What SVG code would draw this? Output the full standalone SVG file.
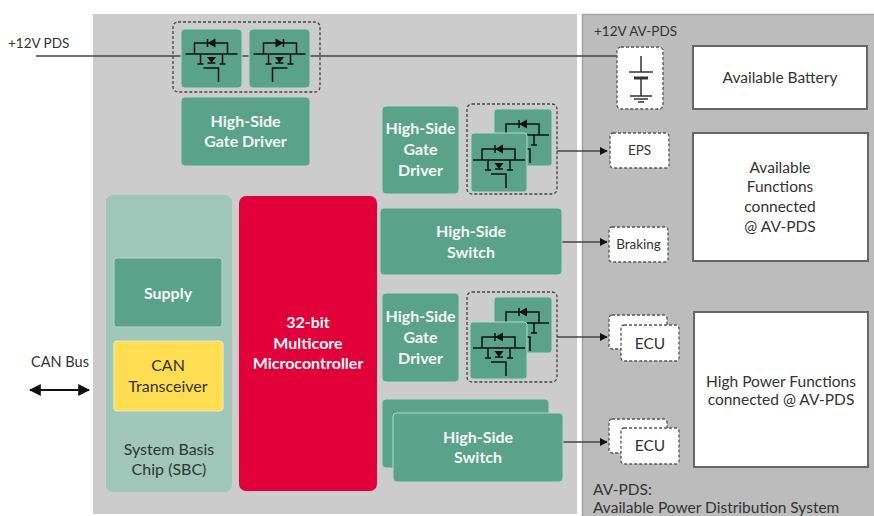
<svg xmlns="http://www.w3.org/2000/svg" xmlns:xlink="http://www.w3.org/1999/xlink" width="874" height="516" viewBox="0 0 874 516">
<style>
.t{font-family:Lato,"Liberation Sans",sans-serif;font-size:15.5px;fill:#333;text-anchor:middle}
.ts{font-family:Lato,"Liberation Sans",sans-serif;font-size:13.5px;fill:#333}
.w{font-family:Lato,"Liberation Sans",sans-serif;font-size:16px;font-weight:bold;fill:#f4f8f6;text-anchor:middle}
.g{fill:#5ba28a;stroke:#b3d6c9;stroke-width:1}
.dash{fill:none;stroke:#444;stroke-width:1.3;stroke-dasharray:3 2}
.wd{fill:#fff;stroke:#555;stroke-width:1.3;stroke-dasharray:3 2}
.box{fill:#fff;stroke:#666;stroke-width:2}
.ln{fill:none;stroke:#444;stroke-width:1.5}
.fet{fill:none;stroke:#111;stroke-width:1.5}
</style>
<defs>
<marker id="ah" viewBox="0 0 10 10" refX="9" refY="5" markerWidth="8" markerHeight="8" markerUnits="userSpaceOnUse" orient="auto">
<path d="M0,0 L10,5 L0,10 Z" fill="#111"/>
</marker>
<marker id="ah2" viewBox="0 0 10 10" refX="9" refY="5" markerWidth="12" markerHeight="12" markerUnits="userSpaceOnUse" orient="auto-start-reverse">
<path d="M0,0 L10,5 L0,10 Z" fill="#111"/>
</marker>
<g id="fet">
<path class="fet" d="M-26,0 H26 M-17,0 V-11 H16 V0 M-4,-15 V-7 M-11,0 V10 M11,0 V10 M-14,10 H-8 M8,10 H14 M-4,9 H4 M-8,14 H7 V28"/>
<path d="M-4,-11 L4,-15.5 L4,-6.5 Z M-4.5,3 L4.5,3 L0,9 Z" fill="#111"/>
</g>
</defs>

<!-- panels -->
<rect x="93" y="14" width="484" height="500" fill="#cccccc"/>
<rect x="582" y="14" width="292" height="502" fill="#bcbcbc"/>
<path d="M582.5,516 V14.5 H874" fill="none" stroke="#a9a0a0" stroke-width="1.5"/>

<text class="ts" x="8" y="48">+12V PDS</text>
<text class="ts" x="594" y="36">+12V AV-PDS</text>

<g id="connectors">
<path class="ln" d="M36,56 H641 V72 M641,79 V95"/>
<path class="ln" d="M557,151 H607" marker-end="url(#ah)"/>
<path class="ln" d="M562,242 H607" marker-end="url(#ah)"/>
<path class="ln" d="M557,337 H607" marker-end="url(#ah)"/>
<path class="ln" d="M563,442 H607" marker-end="url(#ah)"/>
<path d="M30,390 H89" fill="none" stroke="#111" stroke-width="2" marker-start="url(#ah2)" marker-end="url(#ah2)"/>
</g>

<!-- top mosfets -->
<g id="top-switch">
<rect class="dash" x="173" y="22" width="147" height="70" rx="5"/>
<rect class="g" x="181" y="29" width="61" height="59" rx="4"/>
<rect class="g" x="249" y="29" width="61" height="59" rx="4"/>
<use xlink:href="#fet" href="#fet" transform="translate(211.5,54)"/>
<use xlink:href="#fet" href="#fet" transform="translate(279.5,54) scale(-1,1)"/>
</g>

<g id="battery">
<rect class="wd" x="617" y="47" width="46" height="62" rx="4"/>
<path d="M641,56 V72 M641,79 V96" fill="none" stroke="#333" stroke-width="1.5"/>
<path d="M629,72 H653" stroke="#333" stroke-width="1.5"/>
<path d="M634,78 H648" stroke="#333" stroke-width="3"/>
<path d="M630,96 H652 M634,99 H648 M638,102 H644" stroke="#333" stroke-width="1.3"/>
</g>

<g id="avail-battery">
<rect class="box" x="693" y="46" width="174" height="63"/>
<text class="t" x="780" y="83">Available Battery</text>
</g>

<g id="hs-gate-driver-top">
<rect class="g" x="181" y="97" width="129" height="69" rx="4"/>
<text class="w" x="245.5" y="127">High-Side</text>
<text class="w" x="245.5" y="147">Gate Driver</text>
</g>

<g id="hs-gate-driver-1">
<rect class="g" x="382" y="106" width="77" height="88" rx="4"/>
<text class="w" x="420.5" y="134">High-Side</text>
<text class="w" x="420.5" y="155">Gate</text>
<text class="w" x="420.5" y="176">Driver</text>
</g>
<g id="fet-stack-1">
<rect class="dash" x="467" y="104" width="90" height="90" rx="5"/>
<rect class="g" x="494" y="109" width="58" height="57" rx="3"/>
<use xlink:href="#fet" href="#fet" transform="translate(523,135)"/>
<rect class="g" x="471" y="133" width="56" height="59" rx="3"/>
<use xlink:href="#fet" href="#fet" transform="translate(499,160)"/>
</g>

<g id="hs-switch-1">
<rect class="g" x="380" y="208" width="182" height="67" rx="4"/>
<text class="w" x="471" y="237">High-Side</text>
<text class="w" x="471" y="258">Switch</text>
</g>

<g id="hs-gate-driver-2">
<rect class="g" x="382" y="293" width="77" height="89" rx="4"/>
<text class="w" x="420.5" y="322">High-Side</text>
<text class="w" x="420.5" y="343">Gate</text>
<text class="w" x="420.5" y="364">Driver</text>
</g>
<g id="fet-stack-2">
<rect class="dash" x="467" y="292" width="90" height="90" rx="5"/>
<rect class="g" x="494" y="297" width="58" height="56" rx="3"/>
<use xlink:href="#fet" href="#fet" transform="translate(523,323)"/>
<rect class="g" x="470" y="322" width="57" height="57" rx="3"/>
<use xlink:href="#fet" href="#fet" transform="translate(499,348)"/>
</g>

<g id="hs-switch-2">
<rect class="g" x="382" y="399" width="167" height="69" rx="4"/>
<rect class="g" x="393" y="413" width="170" height="69" rx="4"/>
<text class="w" x="478" y="443">High-Side</text>
<text class="w" x="478" y="463">Switch</text>
</g>

<g id="sbc">
<rect x="106" y="195" width="126" height="297" rx="7" fill="#9fc6b9"/>
<text class="t" x="169" y="455" style="font-size:16px">System Basis</text>
<text class="t" x="169" y="475" style="font-size:16px">Chip (SBC)</text>
</g>
<g id="supply">
<rect class="g" x="114" y="258" width="108" height="69" rx="3"/>
<text class="w" x="168" y="299">Supply</text>
</g>
<g id="can-transceiver">
<rect x="114" y="341" width="109" height="70" rx="3" fill="#fedd52" stroke="#f3ecc0" stroke-width="1"/>
<text class="t" x="168" y="371" style="font-size:16px">CAN</text>
<text class="t" x="168" y="392" style="font-size:16px">Transceiver</text>
</g>

<g id="mcu">
<rect x="239" y="196" width="138" height="295" rx="7" fill="#e2003b"/>
<text class="w" x="308" y="328">32-bit</text>
<text class="w" x="308" y="349">Multicore</text>
<text class="w" x="308" y="369">Microcontroller</text>
</g>

<g id="can-bus">
<text class="t" x="60" y="367" style="font-size:14.5px">CAN Bus</text>
</g>

<g id="eps">
<rect class="wd" x="610" y="133" width="59" height="35" rx="3"/>
<text class="t" x="639.5" y="155" style="font-size:13.5px">EPS</text>
</g>
<g id="braking">
<rect class="wd" x="609" y="227" width="59" height="35" rx="3"/>
<text class="t" x="638.5" y="249" style="font-size:13.5px">Braking</text>
</g>
<g id="avail-functions">
<rect class="box" x="693" y="133" width="175" height="128"/>
<text class="t" x="780" y="173">Available</text>
<text class="t" x="780" y="192">Functions</text>
<text class="t" x="780" y="212">connected</text>
<text class="t" x="780" y="232">@ AV-PDS</text>
</g>

<g id="ecu-1">
<rect class="wd" x="609" y="315" width="58" height="34" rx="3"/>
<rect class="wd" x="621" y="325" width="58" height="36" rx="3"/>
<text class="t" x="650" y="349">ECU</text>
</g>
<g id="ecu-2">
<rect class="wd" x="609" y="419" width="58" height="34" rx="3"/>
<rect class="wd" x="621" y="428" width="58" height="36" rx="3"/>
<text class="t" x="650" y="451">ECU</text>
</g>
<g id="high-power">
<rect class="box" x="694" y="312" width="174" height="155"/>
<text class="t" x="781" y="387">High Power Functions</text>
<text class="t" x="781" y="405">connected @ AV-PDS</text>
</g>

<g id="legend">
<text class="t" x="593" y="495" style="text-anchor:start">AV-PDS:</text>
<text class="t" x="593" y="513" style="text-anchor:start">Available Power Distribution System</text>
</g>
</svg>
